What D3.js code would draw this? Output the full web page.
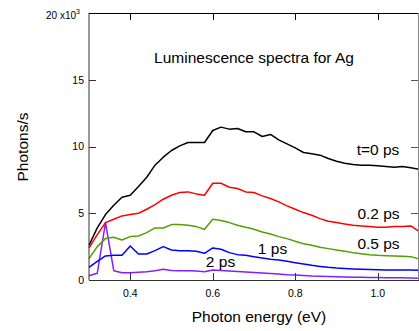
<!DOCTYPE html>
<html><head><meta charset="utf-8">
<script src="https://cdn.jsdelivr.net/npm/d3@7"></script>
<style>body{margin:0;background:#fff}svg{display:block}text{font-family:"Liberation Sans",Arial,sans-serif}</style>
</head><body>
<script>
const energy = [0.30,0.32,0.34,0.36,0.38,0.40,0.42,0.44,0.46,0.48,0.50,0.52,0.54,0.56,0.58,0.60,0.62,0.64,0.66,0.68,0.70,0.72,0.74,0.76,0.78,0.80,0.82,0.84,0.86,0.88,0.90,0.92,0.94,0.96,0.98,1.00,1.02,1.04,1.06,1.08,1.10];
const t0ps  = [2.6,3.9,4.9,5.6,6.2,6.35,7.0,7.7,8.6,9.2,9.7,10.05,10.3,10.3,10.3,11.2,11.45,11.3,11.35,11.1,11.1,10.75,10.9,10.5,10.2,9.9,9.55,9.45,9.35,9.1,8.9,8.75,8.65,8.6,8.6,8.55,8.5,8.45,8.5,8.4,8.3];
const t02ps = [2.4,3.4,4.3,4.55,4.8,4.9,5.0,5.3,5.65,6.05,6.35,6.55,6.6,6.45,6.35,7.25,7.25,6.95,6.85,6.6,6.55,6.3,6.1,5.85,5.55,5.3,5.05,4.85,4.6,4.4,4.3,4.2,4.1,4.05,4.0,3.95,3.95,4.0,4.0,4.05,3.65];
const t05ps = [1.6,2.5,3.1,3.2,3.0,3.25,3.3,3.55,3.9,3.9,4.15,4.15,4.1,4.0,3.8,4.55,4.45,4.3,4.1,3.95,3.8,3.6,3.45,3.25,3.1,2.9,2.72,2.6,2.45,2.35,2.25,2.15,2.05,1.97,1.9,1.85,1.82,1.8,1.77,1.75,1.57];
const t1ps  = [0.95,1.4,1.8,1.85,1.85,2.55,1.95,1.95,2.2,2.5,2.25,2.2,2.2,2.15,2.0,2.4,2.3,2.05,1.9,1.85,1.75,1.65,1.55,1.5,1.4,1.3,1.2,1.1,1.02,0.95,0.9,0.87,0.83,0.8,0.78,0.76,0.75,0.75,0.74,0.75,0.73];
const t2ps  = [0.32,0.5,4.3,0.7,0.55,0.55,0.58,0.62,0.7,0.8,0.72,0.7,0.7,0.68,0.62,0.75,0.72,0.68,0.64,0.6,0.56,0.52,0.48,0.45,0.4,0.37,0.34,0.3,0.28,0.26,0.24,0.22,0.2,0.2,0.19,0.18,0.17,0.17,0.16,0.15,0.13];
const seriesNames = ["t=0 ps","0.2 ps","0.5 ps","1 ps","2 ps"];
const xTicks = [0.4,0.6,0.8,1.0];
const xTickLabels = ["0.4","0.6","0.8","1.0"];
const yTicks = [0,5,10,15,20];
const yTickLabels = ["0","5","10","15","20 x10"];

const series = [
  {name: seriesNames[0], values: t0ps,  color: "#000000", lx: 378, ly: 155},
  {name: seriesNames[1], values: t02ps, color: "#ff0000", lx: 378.5, ly: 218.5},
  {name: seriesNames[2], values: t05ps, color: "#52a000", lx: 378.5, ly: 248.5},
  {name: seriesNames[3], values: t1ps,  color: "#0000ff", lx: 272.5, ly: 254},
  {name: seriesNames[4], values: t2ps,  color: "#8020ff", lx: 220.5, ly: 266.5}
];

const W = 419, H = 331;
const svg = d3.select("body").append("svg").attr("width", W).attr("height", H);
const x = d3.scaleLinear().domain([0.3, 1.1]).range([89, 419]);
const y = d3.scaleLinear().domain([0, 20]).range([280, 13]);

// series lines
const line = d3.line().x((d, i) => x(energy[i])).y(d => y(d));
series.slice().reverse().forEach(s => {
  svg.append("path").datum(s.values).attr("d", line)
    .attr("fill", "none").attr("stroke", s.color).attr("stroke-width", 1.5)
    .attr("stroke-linejoin", "round");
});

// frame: left, bottom, top, right
svg.append("line").attr("x1", 89).attr("x2", 89).attr("y1", 13).attr("y2", 280).attr("stroke", "#333").attr("stroke-width", 1);
svg.append("line").attr("x1", 89).attr("x2", 419).attr("y1", 280.5).attr("y2", 280.5).attr("stroke", "#333").attr("stroke-width", 1);
svg.append("line").attr("x1", 89).attr("x2", 419).attr("y1", 13.5).attr("y2", 13.5).attr("stroke", "#000").attr("stroke-width", 1);
svg.append("line").attr("x1", 418.5).attr("x2", 418.5).attr("y1", 13).attr("y2", 280).attr("stroke", "#888").attr("stroke-width", 1);

// y ticks (inside) left and right
yTicks.forEach((t, i) => {
  const yy = Math.round(y(t)) + 0.5;
  if (t > 0 && t < 20) {
    svg.append("line").attr("x1", 89).attr("x2", 96).attr("y1", yy).attr("y2", yy).attr("stroke", "#333");
    svg.append("line").attr("x1", 411).attr("x2", 418).attr("y1", yy).attr("y2", yy).attr("stroke", "#555");
  }
  const tx = svg.append("text").attr("x", 84).attr("y", y(t) + 3.8)
    .attr("text-anchor", "end").attr("font-size", 10.5).attr("fill", "#000");
  if (t === 20) {
    tx.attr("x", 80).attr("y", y(t) + 6).attr("font-size", 10);
    tx.append("tspan").text(yTickLabels[i]);
    tx.append("tspan").attr("dy", -5).attr("font-size", 7).text("3");
  } else tx.text(yTickLabels[i]);
});

// x ticks (inside) bottom and top
xTicks.forEach((t, i) => {
  const xx = Math.round(x(t)) + 0.5;
  svg.append("line").attr("x1", xx).attr("x2", xx).attr("y1", 273).attr("y2", 280).attr("stroke", "#333");
  svg.append("line").attr("x1", xx).attr("x2", xx).attr("y1", 13).attr("y2", 20).attr("stroke", "#000");
  svg.append("text").attr("x", x(t)).attr("y", 297).attr("text-anchor", "middle")
    .attr("font-size", 10.5).attr("fill", "#000").text(xTickLabels[i]);
});

// axis labels
svg.append("text").attr("x", 259).attr("y", 322).attr("text-anchor", "middle")
  .attr("font-size", 15.5).text("Photon energy (eV)");
svg.append("text").attr("transform", "translate(28,147) rotate(-90)").attr("text-anchor", "middle")
  .attr("font-size", 15.5).text("Photons/s");

// title
svg.append("text").attr("x", 254).attr("y", 62.5).attr("text-anchor", "middle")
  .attr("font-size", 15.5).text("Luminescence spectra for Ag");

// series labels
series.forEach(s => {
  svg.append("text").attr("x", s.lx).attr("y", s.ly).attr("text-anchor", "middle")
    .attr("font-size", 15.5).attr("fill", "#000").text(s.name);
});
</script>
</body></html>
